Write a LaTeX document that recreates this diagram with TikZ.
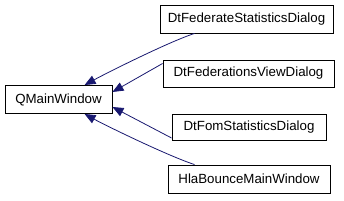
\documentclass[tikz,border=0pt]{standalone}
\usepackage{fontspec}
\setmainfont{Liberation Sans}
\usetikzlibrary{arrows.meta}
\definecolor{edgeblue}{HTML}{191970}
\tikzset{
  cls/.style={draw=black, line width=0.9pt, fill=white, inner sep=0pt, anchor=center,
    font=\fontsize{13.3pt}{15pt}\selectfont},
  inh/.style={draw=edgeblue, line width=0.8pt,
    -{Triangle[length=11pt,width=9pt,fill=edgeblue]}}
}
\begin{document}
\begin{tikzpicture}[x=1pt,y=-1pt]
\useasboundingbox (0,0) rectangle (344,200);
\node[cls, minimum width=107pt, minimum height=28pt] (q) at (58.5,99.5) {QMainWindow};
\node[cls, minimum width=173pt, minimum height=28pt] (a) at (246.5,19) {DtFederateStatisticsDialog};
\node[cls, minimum width=171pt, minimum height=27pt] (b) at (248.5,73.5) {DtFederationsViewDialog};
\node[cls, minimum width=154pt, minimum height=26pt] (c) at (249,127) {DtFomStatisticsDialog};
\node[cls, minimum width=162pt, minimum height=28pt] (d) at (249,179) {HlaBounceMainWindow};
\coordinate (as) at ([xshift=35pt]a.south west);
\coordinate (dn) at ([xshift=27pt]d.north west);
\coordinate (qa) at ([xshift=80pt]q.north west);
\coordinate (qd) at ([xshift=80pt]q.south west);
\draw[inh] (as) .. controls +(-25,8) and +(22,-12) .. (qa);
\draw[inh] ([yshift=10pt]b.west) -- ([yshift=7.5pt]q.east);
\draw[inh] ([yshift=-11pt]c.west) -- ([yshift=-7.5pt]q.east);
\draw[inh] (dn) .. controls +(-25,-8) and +(22,12) .. (qd);
\end{tikzpicture}
\end{document}
